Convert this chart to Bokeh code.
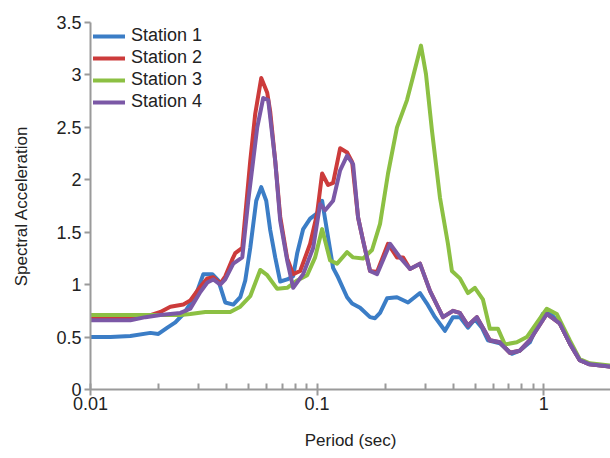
from bokeh.plotting import figure
from bokeh.models import Range1d, FixedTicker, CustomJSTickFormatter, Legend, LegendItem
from bokeh.embed import file_html
from bokeh.resources import INLINE

# ---------------- data ----------------
s1_period = [0.0100, 0.01225, 0.0150, 0.01838, 0.01993, 0.02184, 0.02368, 0.02569, 0.02757, 0.02960,
             0.03147, 0.03446, 0.03663, 0.03932, 0.04266, 0.04580, 0.04818, 0.05068, 0.05387, 0.05667,
             0.05962, 0.06209, 0.06532, 0.06871, 0.07377, 0.07840, 0.08166, 0.08678, 0.09316, 0.1000,
             0.1052, 0.1118, 0.1176, 0.1237, 0.1356, 0.1427, 0.1547, 0.1712, 0.1801, 0.1895,
             0.2035, 0.2251, 0.2518, 0.2843, 0.3052, 0.3311, 0.3665, 0.3973, 0.4266, 0.4627,
             0.4966, 0.5332, 0.5667, 0.6401, 0.7228, 0.7840, 0.8678, 0.990, 1.063, 1.176,
             1.302, 1.441, 1.595, 1.953]
s1_value = [0.50, 0.50, 0.51, 0.54, 0.53, 0.59, 0.64, 0.72, 0.82, 0.94,
            1.10, 1.10, 1.04, 0.83, 0.81, 0.88, 1.04, 1.35, 1.80, 1.93,
            1.80, 1.52, 1.26, 1.03, 1.05, 1.08, 1.30, 1.53, 1.63, 1.68,
            1.80, 1.45, 1.16, 1.07, 0.88, 0.82, 0.78, 0.69, 0.68, 0.73,
            0.87, 0.88, 0.83, 0.92, 0.82, 0.69, 0.56, 0.69, 0.69, 0.59,
            0.67, 0.59, 0.47, 0.44, 0.34, 0.37, 0.45, 0.72, 0.73, 0.63,
            0.44, 0.28, 0.24, 0.22]

s2_period = [0.0100, 0.0150, 0.01838, 0.02034, 0.02251, 0.02569, 0.02757, 0.03052, 0.03277, 0.03482,
             0.03738, 0.03932, 0.04222, 0.04353, 0.04674, 0.05068, 0.05332, 0.05667, 0.06023, 0.06209,
             0.06532, 0.06871, 0.07377, 0.07840, 0.08418, 0.09316, 0.1000, 0.1052, 0.1118, 0.1176,
             0.1263, 0.1356, 0.1427, 0.1516, 0.1595, 0.1712, 0.1838, 0.2055, 0.2251, 0.2393,
             0.2569, 0.2843, 0.3147, 0.3591, 0.3973, 0.4266, 0.4627, 0.5068, 0.5387, 0.5783,
             0.6401, 0.7083, 0.7840, 0.8678, 1.031, 1.176, 1.302, 1.441, 1.595, 1.953]
s2_value = [0.68, 0.68, 0.71, 0.74, 0.79, 0.81, 0.85, 0.98, 1.06, 1.07,
            1.01, 1.08, 1.24, 1.30, 1.35, 2.18, 2.63, 2.97, 2.83, 2.65,
            2.18, 1.65, 1.25, 1.10, 1.13, 1.39, 1.68, 2.06, 1.95, 1.97,
            2.30, 2.26, 2.17, 1.64, 1.42, 1.13, 1.12, 1.39, 1.26, 1.26,
            1.15, 1.20, 0.94, 0.69, 0.75, 0.73, 0.61, 0.69, 0.59, 0.47,
            0.45, 0.35, 0.37, 0.47, 0.72, 0.63, 0.44, 0.28, 0.24, 0.22]

s3_period = [0.0100, 0.02492, 0.02757, 0.03211, 0.04137, 0.04580, 0.05068, 0.05610, 0.06023, 0.06666,
             0.07377, 0.08166, 0.09037, 0.09799, 0.1052, 0.1141, 0.1225, 0.1356, 0.1441, 0.1595,
             0.1747, 0.1895, 0.2055, 0.2251, 0.2492, 0.2648, 0.2872, 0.3021, 0.3211, 0.3483,
             0.3777, 0.3933, 0.4266, 0.4627, 0.4966, 0.5387, 0.5783, 0.6273, 0.6734, 0.7605,
             0.8418, 1.031, 1.141, 1.302, 1.441, 1.595, 1.953]
s3_value = [0.71, 0.71, 0.72, 0.74, 0.74, 0.79, 0.89, 1.14, 1.09, 0.96,
            0.97, 1.04, 1.09, 1.26, 1.53, 1.23, 1.20, 1.31, 1.26, 1.25,
            1.33, 1.58, 2.06, 2.50, 2.76, 2.98, 3.28, 3.01, 2.47, 1.83,
            1.39, 1.13, 1.06, 0.92, 0.97, 0.86, 0.58, 0.58, 0.43, 0.45,
            0.50, 0.77, 0.72, 0.47, 0.29, 0.25, 0.23]

s4_period = [0.0100, 0.0150, 0.01747, 0.02034, 0.02492, 0.02757, 0.03052, 0.03277, 0.03482, 0.03738,
             0.03932, 0.04266, 0.04674, 0.04966, 0.05442, 0.05783, 0.06084, 0.06532, 0.06871, 0.07377,
             0.07840, 0.08678, 0.09603, 0.1031, 0.1085, 0.1176, 0.1263, 0.1356, 0.1441, 0.1516,
             0.1595, 0.1712, 0.1838, 0.2097, 0.2321, 0.2569, 0.2843, 0.3147, 0.3591, 0.3973,
             0.4266, 0.4627, 0.5068, 0.5387, 0.5783, 0.6401, 0.7083, 0.7840, 0.8678, 1.031,
             1.176, 1.302, 1.441, 1.595, 1.953]
s4_value = [0.66, 0.66, 0.69, 0.71, 0.73, 0.77, 0.93, 1.02, 1.05, 1.00,
            1.05, 1.20, 1.26, 1.80, 2.50, 2.78, 2.76, 2.18, 1.61, 1.23,
            0.97, 1.10, 1.35, 1.77, 1.71, 1.80, 2.09, 2.23, 2.15, 1.64,
            1.42, 1.13, 1.10, 1.39, 1.26, 1.15, 1.20, 0.94, 0.69, 0.75,
            0.73, 0.61, 0.69, 0.59, 0.47, 0.45, 0.35, 0.37, 0.47, 0.72,
            0.63, 0.44, 0.28, 0.24, 0.22]

series_names = ["Station 1", "Station 2", "Station 3", "Station 4"]
series_colors = ["#3B7DC6", "#CC3B3B", "#8CC043", "#7B58A6"]

x_major = [0.01, 0.1, 1]
x_minor = [0.02, 0.03, 0.04, 0.05, 0.06, 0.07, 0.08, 0.09,
           0.2, 0.3, 0.4, 0.5, 0.6, 0.7, 0.8, 0.9]
y_major = [0, 0.5, 1, 1.5, 2, 2.5, 3, 3.5]

FONT = "Liberation Sans"

p = figure(width=610, height=458, x_axis_type="log",
           x_range=Range1d(0.01, 1.97), y_range=Range1d(0, 3.5),
           output_backend="svg", toolbar_location=None,
           min_border_left=90, min_border_right=0, min_border_top=22, min_border_bottom=69)
p.outline_line_color = None
p.xgrid.visible = False
p.ygrid.visible = False
p.background_fill_color = "white"
p.border_fill_color = "white"

data = [(s1_period, s1_value), (s2_period, s2_value), (s3_period, s3_value), (s4_period, s4_value)]
renderers = []
for (xs, ys), name, col in zip(data, series_names, series_colors):
    r = p.line(xs, ys, line_color=col, line_width=4, line_join="round", line_cap="round")
    renderers.append(r)

legend = Legend(items=[LegendItem(label=n, renderers=[r]) for n, r in zip(series_names, renderers)],
                location="top_left")
legend.background_fill_alpha = 0
legend.border_line_color = None
legend.label_text_font = FONT
legend.label_text_font_size = "18px"
legend.label_text_color = "#222222"
legend.glyph_width = 32
legend.glyph_height = 20
legend.label_height = 20
legend.spacing = 1
legend.padding = 1
legend.margin = 3
legend.label_standoff = 6
p.add_layout(legend)

# axes
xa = p.xaxis[0]
xa.ticker = FixedTicker(ticks=x_major, minor_ticks=x_minor)
xa.formatter = CustomJSTickFormatter(code="return tick.toString();")
xa.axis_line_color = "#9a9a9a"
xa.axis_line_width = 2
xa.major_tick_line_color = "#9a9a9a"
xa.major_tick_line_width = 2
xa.major_tick_in = 6
xa.major_tick_out = 6
xa.minor_tick_line_color = "#9a9a9a"
xa.minor_tick_line_width = 2
xa.minor_tick_in = 6
xa.minor_tick_out = 0
xa.major_label_text_font = FONT
xa.major_label_text_font_size = "18px"
xa.major_label_text_color = "#222222"
xa.major_label_standoff = 1
xa.axis_label = "Period (sec)"
xa.axis_label_text_font = FONT
xa.axis_label_text_font_size = "17px"
xa.axis_label_text_font_style = "normal"
xa.axis_label_text_color = "#222222"
xa.axis_label_standoff = 18

ya = p.yaxis[0]
ya.ticker = FixedTicker(ticks=y_major)
ya.formatter = CustomJSTickFormatter(code="return tick.toString();")
ya.axis_line_color = "#9a9a9a"
ya.axis_line_width = 2
ya.major_tick_line_color = "#9a9a9a"
ya.major_tick_line_width = 2
ya.major_tick_in = 0
ya.major_tick_out = 6
ya.minor_tick_line_color = None
ya.major_label_text_font = FONT
ya.major_label_text_font_size = "18px"
ya.major_label_text_color = "#222222"
ya.major_label_standoff = 3
ya.axis_label = "Spectral Acceleration"
ya.axis_label_text_font = FONT
ya.axis_label_text_font_size = "17px"
ya.axis_label_text_font_style = "normal"
ya.axis_label_text_color = "#222222"
ya.axis_label_standoff = 22

open("out.html", "w").write(file_html(p, INLINE))
